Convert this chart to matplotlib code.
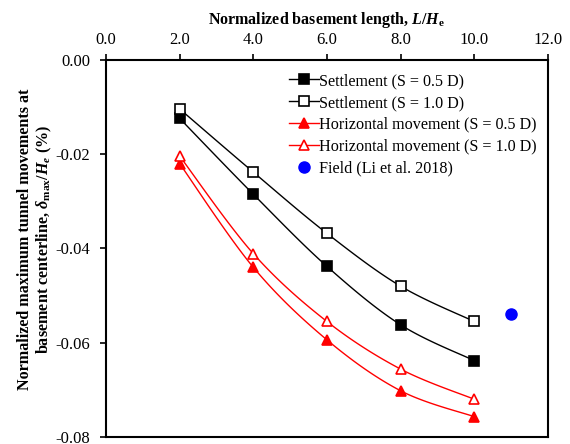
import numpy as np
import matplotlib
matplotlib.use("Agg")
import matplotlib.pyplot as plt

plt.rcParams['font.family'] = ['Liberation Serif', 'DejaVu Serif']
plt.rcParams['mathtext.fontset'] = 'custom'
plt.rcParams['mathtext.rm'] = 'Liberation Serif:bold'
plt.rcParams['mathtext.it'] = 'Liberation Serif:italic:bold'
plt.rcParams['mathtext.bf'] = 'Liberation Serif:bold'

# normalized basement length L/He
length_ratio = [2.0, 4.0, 6.0, 8.0, 10.0]

# normalized max tunnel movements (%)
settle_05 = [-0.0124, -0.0285, -0.0438, -0.0562, -0.0638]
settle_10 = [-0.0104, -0.0238, -0.0368, -0.0480, -0.0555]
horiz_05 = [-0.0220, -0.0440, -0.0594, -0.0702, -0.0757]
horiz_10 = [-0.0204, -0.0411, -0.0555, -0.0656, -0.0720]

field_x = [11.0]
field_y = [-0.0539]


def smooth(x, y, n=30):
    # Catmull-Rom curve through the points, like a spreadsheet "smoothed line"
    p = np.column_stack([x, y]).astype(float)
    p = np.vstack([p[0], p, p[-1]])
    out = []
    t = np.linspace(0, 1, n)[:, None]
    for i in range(1, len(p) - 2):
        p0, p1, p2, p3 = p[i - 1], p[i], p[i + 1], p[i + 2]
        seg = 0.5 * ((2 * p1) + (-p0 + p2) * t + (2 * p0 - 5 * p1 + 4 * p2 - p3) * t ** 2
                     + (-p0 + 3 * p1 - 3 * p2 + p3) * t ** 3)
        out.append(seg)
    out = np.vstack(out)
    return out[:, 0], out[:, 1]


fig = plt.figure(figsize=(5.7, 4.44), dpi=100)
ax = fig.add_axes([0.186, 0.016, 0.775, 0.849])

series = [
    (settle_05, 'black', 's', 'black', 'Settlement (S = 0.5 D)'),
    (settle_10, 'black', 's', 'white', 'Settlement (S = 1.0 D)'),
    (horiz_05, 'red', '^', 'red', 'Horizontal movement (S = 0.5 D)'),
    (horiz_10, 'red', '^', 'white', 'Horizontal movement (S = 1.0 D)'),
]
handles = []
for ys, col, mk, face, lab in series:
    sx, sy = smooth(length_ratio, ys)
    ax.plot(sx, sy, color=col, lw=1.0, zorder=2)
    ax.plot(length_ratio, ys, ls='none', marker=mk, ms=7.5, mfc=face, mec=col, mew=1.2, zorder=3)
    h, = ax.plot([], [], color=col, lw=1.0, marker=mk, ms=7.5, mfc=face, mec=col, mew=1.2, label=lab)
    handles.append(h)

h, = ax.plot(field_x, field_y, ls='none', marker='o', ms=8, color='blue', label='Field (Li et al. 2018)')
handles.append(h)

ax.set_xlim(0, 12)
ax.set_ylim(-0.08, 0)
ax.set_xticks(np.arange(0, 12.1, 2))
ax.set_yticks(np.arange(-0.08, 0.001, 0.02))
ax.xaxis.set_major_formatter(matplotlib.ticker.FormatStrFormatter('%.1f'))
ax.yaxis.set_major_formatter(matplotlib.ticker.FormatStrFormatter('%.2f'))
ax.xaxis.tick_top()
ax.xaxis.set_label_position('top')
ax.tick_params(axis='both', direction='out', labelsize=12, width=1.2, length=4.5)
ax.tick_params(axis='x', pad=4)
ax.tick_params(axis='y', pad=7)
for s in ax.spines.values():
    s.set_linewidth(1.5)

ax.set_xlabel(r'Normalized basement length, $L$/$H_\mathrm{e}$', fontsize=11.5, fontweight='bold', labelpad=6)
ax.set_ylabel('Normalized maximum tunnel movements at\n'
              r'basement centerline, $\delta_\mathrm{max}$/$H_e$ (%)',
              fontsize=11.6, fontweight='bold', linespacing=1.15)
ax.yaxis.set_label_coords(-0.117, 0.525)

ax.legend(handles=handles, loc='upper right', bbox_to_anchor=(1.0, 0.995), frameon=False,
          fontsize=11.6, handlelength=1.85, handletextpad=0.0, labelspacing=0.36, borderaxespad=0.3)

fig.savefig('out.png', dpi=100)
